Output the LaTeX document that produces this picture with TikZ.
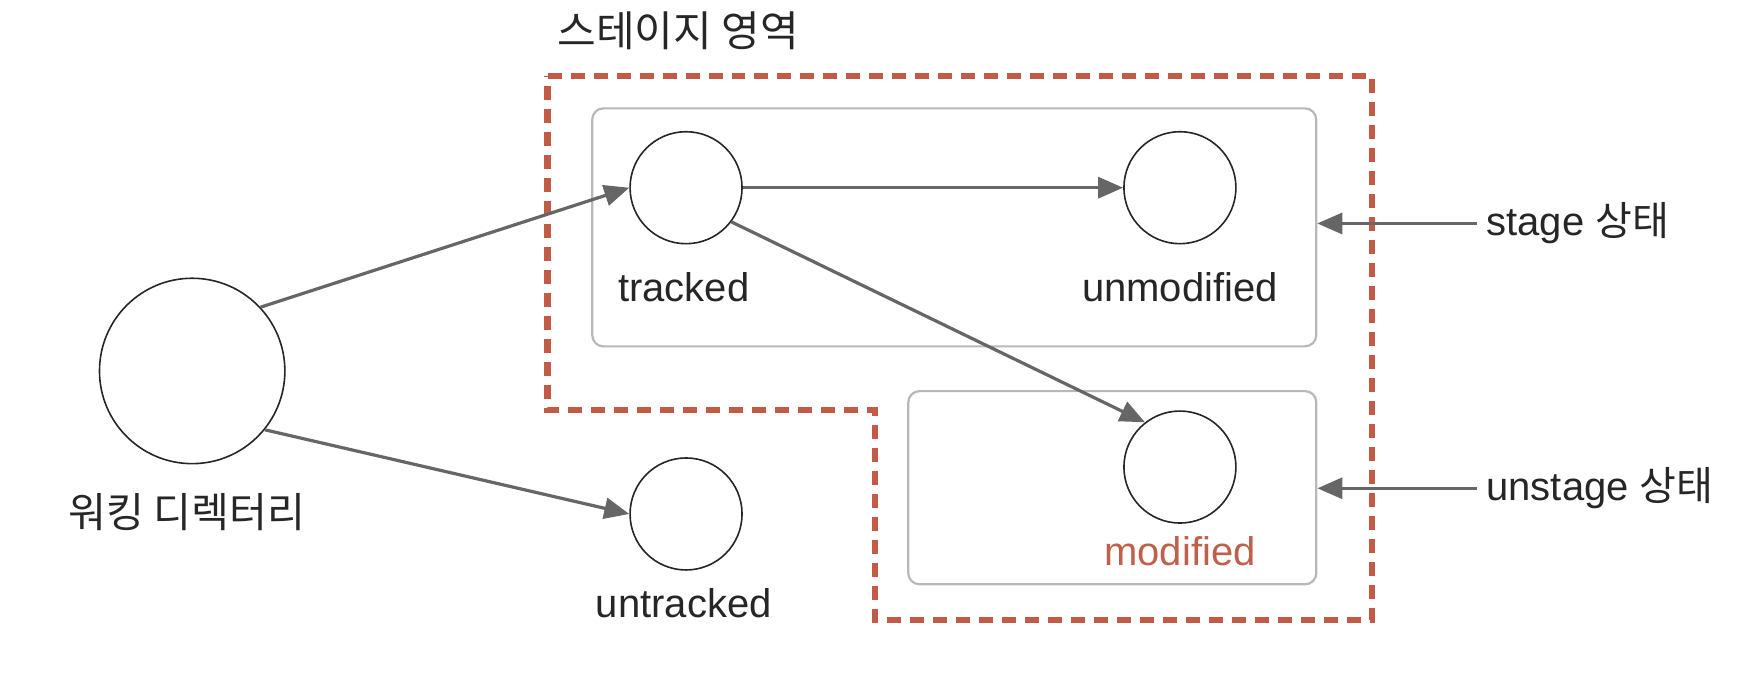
\documentclass[tikz,border=0pt]{standalone}
\usepackage{fontspec}
\setmainfont{Liberation Sans}
\newfontfamily\kr{Noto Sans CJK KR}
\usetikzlibrary{arrows.meta,calc}
\definecolor{arrgray}{HTML}{666666}
\definecolor{boxgray}{HTML}{B8B8B8}
\definecolor{redline}{HTML}{C25B45}
\definecolor{redtext}{HTML}{C0604A}
\tikzset{
  x=0.5587pt, y=-0.5587pt,
  state/.style={circle, draw=black!85, line width=0.8pt, minimum size=56pt, inner sep=0pt},
  bigstate/.style={circle, draw=black!85, line width=0.8pt, minimum size=92.7pt, inner sep=0pt},
  lbl/.style={font=\fontsize{20}{22}\selectfont, inner sep=0pt, text=black!85},
  krlbl/.style={font=\kr\fontsize{21}{24}\selectfont, inner sep=0pt, text=black!85},
  area/.style={draw=boxgray, line width=1.1pt, rounded corners=5.6pt, inner sep=0pt},
  conn/.style={draw=arrgray, line width=1.6pt, -{Triangle[length=12.5pt,width=10.5pt]}},
  stagearea/.style={draw=redline, line width=3.35pt, dash pattern=on 7pt off 4.5pt}
}
\begin{document}
\begin{tikzpicture}
\useasboundingbox (0,0) rectangle (1568,608.6);
% boxes
\node[area, minimum width=362pt, minimum height=119pt] (stagebox) at (854,203.5) {};
\node[area, minimum width=204pt, minimum height=96.6pt] (unstagebox) at (995.5,436.5) {};
% dashed stage area
\draw[stagearea] (490,68) -- (1228,68) -- (1228,555) -- (783,555) -- (783,367) -- (490,367) -- cycle;
\node[krlbl] (title) at (607,28) {스테이지 영역};
% states
\node[bigstate] (wd) at (172,332) {};
\node[krlbl, font=\kr\fontsize{20.6}{24}\selectfont] (wdl) at (167,458) {워킹 디렉터리};
\node[state] (tracked) at (614,168) {};
\node[lbl] (trackedl) at (612,257) {tracked};
\node[state] (unmod) at (1056,168) {};
\node[lbl] (unmodl) at (1056,257) {unmodified};
\node[state] (mod) at (1056,418) {};
\node[lbl, text=redtext] (modl) at (1056,493) {modified};
\node[state] (untracked) at (614,460) {};
\node[lbl] (untrackedl) at (612,540) {untracked};
% connectors
\draw[conn] (wd.43) -- (tracked.west);
\draw[conn] (wd.-39) -- (untracked.west);
\draw[conn] (tracked.east) -- (unmod.west);
\draw[conn] (tracked.-37) -- (mod.128);
% side labels
\node[lbl, anchor=west] (stagel) at (1330,200) {stage {\kr 상태}};
\node[lbl, anchor=west] (unstagel) at (1330,437) {unstage {\kr 상태}};
\draw[conn] (stagel.west) ++(-8,0) coordinate (sa) -- (sa -| stagebox.east);
\draw[conn] (unstagel.west) ++(-8,0) coordinate (ua) -- (ua -| unstagebox.east);
\end{tikzpicture}
\end{document}
